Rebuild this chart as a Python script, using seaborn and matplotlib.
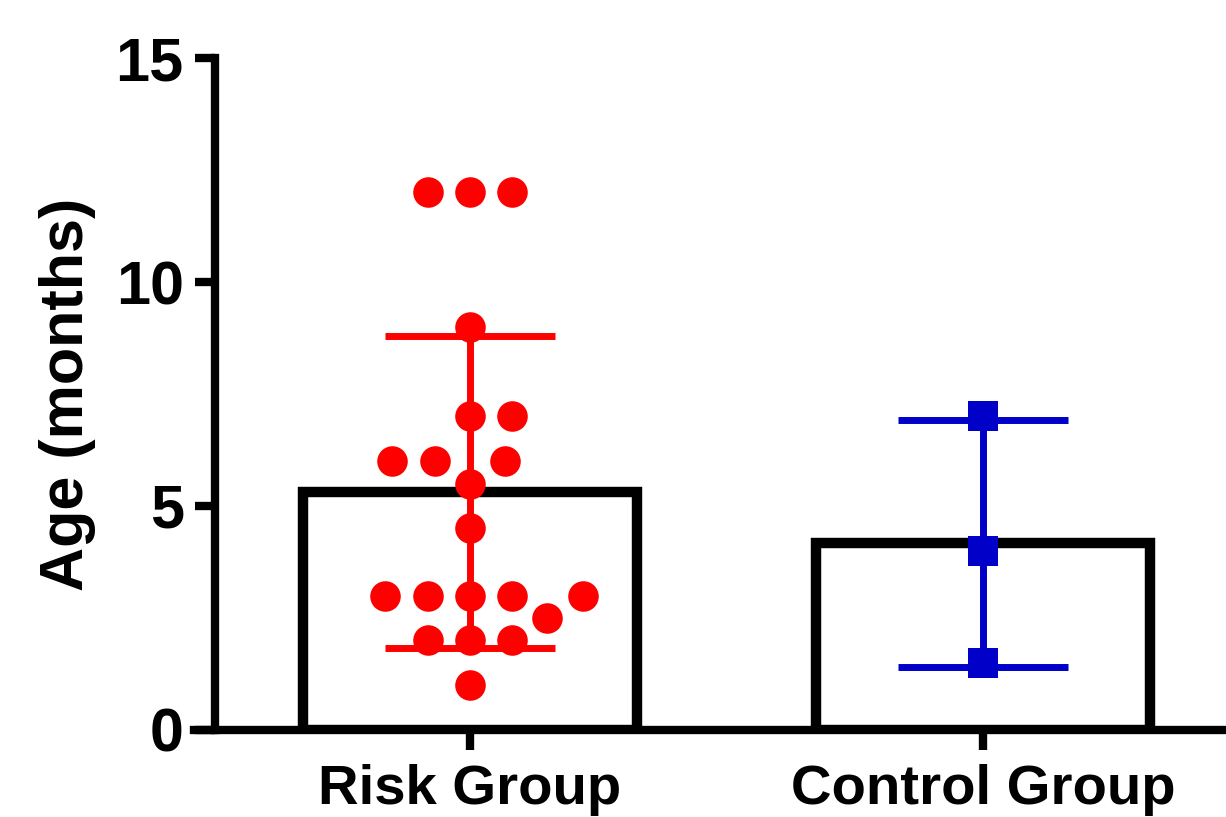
import numpy as np
import pandas as pd
import matplotlib
matplotlib.use("Agg")
import matplotlib.pyplot as plt
import seaborn as sns

# Ages (months) per group
groups = ["Risk Group", "Control Group"]
risk_ages = [12, 12, 12, 9, 7, 7, 6, 6, 6, 5.5, 4.5, 3, 3, 3, 3, 3, 2.5, 2, 2, 2, 1]
control_ages = [7, 4, 1.5]
group_colors = ["#FF0000", "#0000C8"]
group_markers = ["o", "s"]
y_ticks = [0, 5, 10, 15]

df = pd.DataFrame({
    "group": [groups[0]] * len(risk_ages) + [groups[1]] * len(control_ages),
    "age": risk_ages + control_ages,
})

sns.set_style("ticks")
plt.rcParams["font.family"] = ["Liberation Sans", "DejaVu Sans"]
plt.rcParams["font.weight"] = "bold"
for key in ["text.color", "axes.labelcolor", "xtick.color", "ytick.color",
            "axes.edgecolor"]:
    plt.rcParams[key] = "black"

DPI = 100
fig = plt.figure(figsize=(12.26, 8.17), dpi=DPI)
ax = fig.add_axes([0.1582, 0.1065, 0.8418, 0.8225])

# Bars: group means, white fill with heavy black outline
sns.barplot(data=df, x="group", y="age", order=groups, errorbar=None,
            width=0.65, color="white", edgecolor="black", linewidth=7.5,
            ax=ax, zorder=1)
for p in ax.patches:
    p.set_facecolor("white")
    p.set_edgecolor("black")

# Mean +/- SD error bars in the group colour
for i, (g, c) in enumerate(zip(groups, group_colors)):
    vals = df.loc[df.group == g, "age"].to_numpy()
    m, sd = vals.mean(), vals.std(ddof=1)
    ax.errorbar([i], [m], yerr=[sd], fmt="none", ecolor=c, elinewidth=5,
                capsize=61, capthick=5, zorder=2)

# Individual points arranged as a swarm
for g, c, mk in zip(groups, group_colors, group_markers):
    sub = df[df.group == g]
    sns.swarmplot(data=sub, x="group", y="age", order=groups, color=c,
                  marker=mk, size=29, linewidth=0, ax=ax, zorder=3)

ax.set_ylim(0, 15)
ax.set_xlim(-0.538, 1.474)

# Axis styling (spine position first: it rebuilds the ticks)
for s in ["top", "right"]:
    ax.spines[s].set_visible(False)
ax.spines["left"].set_position(("data", -0.497))
for s in ["left", "bottom"]:
    ax.spines[s].set_linewidth(6)
    ax.spines[s].set_color("black")
    ax.spines[s].set_zorder(4)

# Resolve the swarm layout, then shrink the markers in place
fig.canvas.draw()
for coll in ax.collections:
    if "draw" in coll.__dict__:
        del coll.draw
        coll.set_sizes([22 ** 2])

ax.set_yticks(y_ticks)
ax.set_yticklabels([str(t) for t in y_ticks])
ax.set_xticks([0, 1])
ax.set_xticklabels(groups)
ax.tick_params(axis="y", length=14.5, width=6, pad=8, colors="black",
               labelsize=44)
ax.tick_params(axis="x", length=14.5, width=6, pad=10, colors="black",
               labelsize=40.5)
for lab in ax.get_xticklabels() + ax.get_yticklabels():
    lab.set_fontweight("bold")
ax.set_xlabel("")
ax.set_ylabel("Age (months)", fontsize=44, fontweight="bold", labelpad=14)

fig.savefig("out.png", dpi=DPI)
